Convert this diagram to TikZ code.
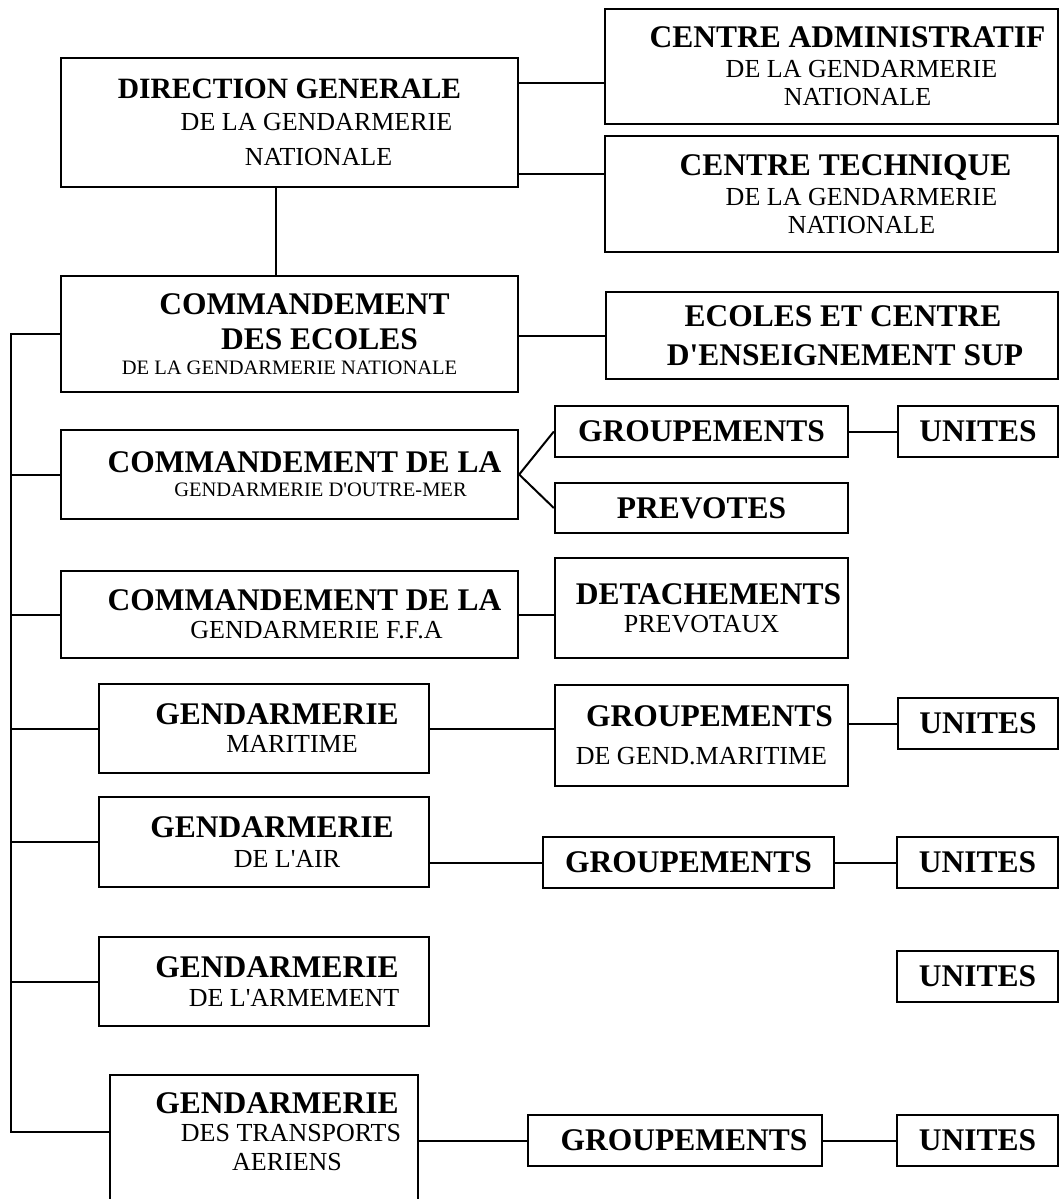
\documentclass[tikz,border=0pt]{standalone}
\usepackage{fontspec}
\setmainfont{Liberation Serif}
\usetikzlibrary{calc}
\newcommand{\boxtitle}{\bfseries\fontsize{31.5}{30}\selectfont}
\newcommand{\boxsub}{\mdseries\fontsize{26}{30}\selectfont}
\newcommand{\boxsmall}{\mdseries\fontsize{20.5}{30}\selectfont}
\newcommand{\nudge}[1]{\hspace*{#1pt}\hspace*{#1pt}}
\tikzset{
  box/.style 2 args = {
    draw, line width=2.3pt, inner sep=0pt, align=center,
    minimum width=#1pt, minimum height=#2pt, font=\boxsub
  },
  frame/.style = {line width=2.3pt},
  link/.style = {line width=2pt}
}

\begin{document}
\begin{tikzpicture}[x=1pt, y=-1pt]
  \useasboundingbox (0,0) rectangle (1061,1199);
  \clip (0,0) rectangle (1061,1199);

  % Direction and centres
  \node[box={457}{129}] (dg) at (289.5,122.5)
    {{\boxtitle\fontsize{29.5}{30}\selectfont DIRECTION GENERALE}\\[2pt]{\nudge{27}DE LA GENDARMERIE}\\[5pt]{\nudge{29}NATIONALE}};
  \node[box={453}{115}] (ca) at (831.5,66.5)
    {{\boxtitle\nudge{16}CENTRE ADMINISTRATIF}\\{\nudge{30}DE LA GENDARMERIE}\\[-2pt]{\nudge{26}NATIONALE}};
  \node[box={453}{116}] (ct) at (831.5,194)
    {{\boxtitle\nudge{14}CENTRE TECHNIQUE}\\{\nudge{30}DE LA GENDARMERIE}\\[-2pt]{\nudge{30}NATIONALE}};

  % Ecoles
  \node[box={457}{116}] (ce) at (289.5,334)
    {{\boxtitle\nudge{15}COMMANDEMENT}\\[5pt]{\boxtitle\nudge{30}DES ECOLES}\\[-5pt]{\boxsmall DE LA GENDARMERIE NATIONALE}};
  \node[box={452}{87}] (es) at (832,335.5)
    {{\boxtitle\nudge{11}ECOLES ET CENTRE}\\[9pt]{\boxtitle\nudge{13}D\textquotesingle ENSEIGNEMENT SUP}};

  % Outre-mer
  \node[box={457}{89}] (om) at (289.5,474.5)
    {{\boxtitle\nudge{15}COMMANDEMENT DE LA}\\[-6pt]{\boxsmall\nudge{31}GENDARMERIE D\textquotesingle OUTRE-MER}};
  \node[box={293}{51}] (grp1) at (701.5,431.5) {\boxtitle GROUPEMENTS};
  \node[box={160}{51}] (un1) at (978,431.5) {\boxtitle UNITES};
  \node[box={293}{50}] (prev) at (701.5,508) {\boxtitle PREVOTES};

  % F.F.A
  \node[box={457}{87}] (ffa) at (289.5,614.5)
    {{\boxtitle\nudge{15}COMMANDEMENT DE LA}\\[-2pt]{\nudge{27}GENDARMERIE F.F.A}};
  \node[box={293}{100}] (det) at (701.5,608)
    {{\boxtitle\nudge{7}DETACHEMENTS}\\[-2pt]{PREVOTAUX}};

  % Maritime
  \node[box={330}{89}] (mar) at (264,728.5)
    {{\boxtitle\nudge{13}GENDARMERIE}\\[-2pt]{\nudge{28}MARITIME}};
  \node[box={293}{101}] (grpm) at (701.5,735.5)
    {{\boxtitle\nudge{8}GROUPEMENTS}\\[8pt]{DE GEND.MARITIME}};
  \node[box={160}{51}] (un2) at (978,723.5) {\boxtitle UNITES};

  % Air
  \node[box={330}{90}] (air) at (264,842)
    {{\boxtitle\nudge{8}GENDARMERIE}\\{\nudge{23}DE L\textquotesingle AIR}};
  \node[box={291}{51}] (grpa) at (688.5,862.5) {\boxtitle GROUPEMENTS};
  \node[box={161}{51}] (un3) at (977.5,862.5) {\boxtitle UNITES};

  % Armement
  \node[box={330}{89}] (arm) at (264,981.5)
    {{\boxtitle\nudge{13}GENDARMERIE}\\[-1pt]{\nudge{30}DE L\textquotesingle ARMEMENT}};
  \node[box={161}{51}] (un4) at (977.5,976.5) {\boxtitle UNITES};

  % Transports aeriens (box runs off the page)
  \node[box={306}{111}, draw=none] (atr) at (264,1131.5)
    {{\boxtitle\nudge{13}GENDARMERIE}\\[-2pt]{\nudge{27}DES TRANSPORTS}\\[-1pt]{\nudge{23}AERIENS}};
  \draw[frame] ([yshift=-30pt]atr.south west) |- (atr.north east) -- ([yshift=-30pt]atr.south east);
  \node[box={294}{51}] (grpt) at (675,1140.5) {\boxtitle\nudge{9}GROUPEMENTS};
  \node[box={161}{51}] (un5) at (977.5,1140.5) {\boxtitle UNITES};

  % Links from the direction
  \draw[link] ($(dg.north east)!.2!(dg.south east)$) coordinate (dca) -- (dca -| ca.west);
  \draw[link] ($(dg.north east)!.89!(dg.south east)$) coordinate (dct) -- (dct -| ct.west);
  \draw[link] ($(dg.south west)!.47!(dg.south east)$) coordinate (dce) -- (dce |- ce.north);
  \draw[link] (es.west) -- (es.west -| ce.east);

  % Left bus
  \draw[link] (ce.west) -- ++(-49,0) coordinate (bus) |- (atr.west);
  \draw[link] (om.west) -- (om.west -| bus);
  \draw[link] (ffa.west) -- (ffa.west -| bus);
  \draw[link] (mar.west) -- (mar.west -| bus);
  \draw[link] (air.west) -- (air.west -| bus);
  \draw[link] (arm.west) -- (arm.west -| bus);

  % Links to the right
  \draw[link] (grp1.west) -- (om.east) -- (prev.west);
  \draw[link] (grp1) -- (un1);
  \draw[link] (ffa.east) -- (ffa.east -| det.west);
  \draw[link] (mar.east) -- (mar.east -| grpm.west);
  \draw[link] (un2.west) -- (un2.west -| grpm.east);
  \draw[link] (grpa.west) -- (grpa.west -| air.east);
  \draw[link] (grpa) -- (un3);
  \draw[link] (grpt.west) -- (grpt.west -| atr.east);
  \draw[link] (grpt) -- (un5);

\end{tikzpicture}
\end{document}
